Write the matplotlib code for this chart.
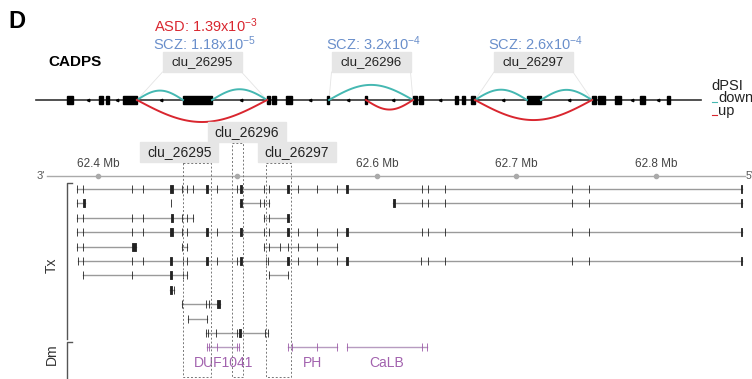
import numpy as np
import matplotlib.pyplot as plt
from matplotlib.patches import Rectangle

plt.rcParams['font.family'] = ['Liberation Sans', 'DejaVu Sans']
plt.rcParams['mathtext.default'] = 'regular'

# ---------------- top panel: collapsed gene model (track units) ----------------
gene_span = [36, 701]
exon_start = [67, 99, 106, 123, 183, 267, 272, 286, 327, 365, 413, 419, 455, 462, 471, 527, 592, 598, 615, 640, 667]
exon_end = [73, 103, 109, 137, 212, 270, 276, 292, 329, 367, 417, 423, 458, 465, 475, 541, 596, 605, 621, 645, 670]
strand_marks = [88, 117, 161, 241, 310, 348, 393, 440, 503, 569, 632, 658]

clusters = ['clu_26295', 'clu_26296', 'clu_26297']
scz_p = ['1.18x10$^{-5}$', '3.2x10$^{-4}$', '2.6x10$^{-4}$']
asd_p = ['1.39x10$^{-3}$', None, None]

junc_cluster = [0, 0, 0, 1, 1, 2, 2, 2]
junc_start = [137, 212, 137, 329, 366, 475, 541, 475]
junc_end = [183, 267, 267, 413, 413, 527, 592, 592]
junc_dpsi = ['down', 'down', 'up', 'down', 'up', 'down', 'down', 'up']

# ---------------- bottom panel: transcripts in genomic kb (chr3) ----------------
region = (62363.4, 62863.8)
ticks_kb = [62400, 62500, 62600, 62700, 62800]
tick_labels = ['62.4 Mb', '', '62.6 Mb', '62.7 Mb', '62.8 Mb']  # 62.5 hidden under cluster labels

# (row, [(exon start kb, exon length kb), ...])
transcripts = [
    (0, [(62384.9, .2), (62389.2, .2), (62424.4, .2), (62432.3, .2), (62451.6, 2.1), (62460.2, .2),
         (62463.8, .2), (62468.1, .2), (62477.4, 1.6), (62485.3, .2), (62499.6, .2), (62501.8, 1.6),
         (62519.0, .2), (62522.6, .2), (62535.5, 1.4), (62543.4, .2), (62557.0, .2), (62571.3, .2),
         (62578.0, 1.2), (62632.3, .2), (62636.6, .2), (62648.7, .2), (62739.8, .2), (62752.0, .2),
         (62860.6, .8)]),
    (1, [(62384.9, .2), (62389.2, 1.6)]),
    (1, [(62452.0, .6)]),
    (1, [(62501.8, 1.6), (62516.1, .2), (62519.0, .2), (62522.6, .2)]),
    (1, [(62611.2, 1.8), (62632.3, .2), (62636.6, .2), (62648.7, .2), (62739.8, .2), (62752.0, .2),
         (62860.6, .8)]),
    (2, [(62384.9, .2), (62389.2, .2), (62424.4, .2), (62432.3, .2), (62452.0, 2.0), (62460.2, .2),
         (62463.8, .2), (62468.1, .2)]),
    (2, [(62519.0, .2), (62522.6, .2), (62535.5, 1.4)]),
    (3, [(62384.9, .2), (62389.2, .2), (62424.4, .2), (62432.3, .2), (62451.6, 2.1), (62460.2, .2),
         (62463.8, .2), (62477.4, 1.6), (62485.3, .2), (62501.8, 1.6), (62519.0, .2), (62522.6, .2),
         (62535.5, 1.4), (62543.4, .2), (62557.0, .2), (62571.3, .2), (62578.0, 1.2), (62632.3, .2),
         (62636.6, .2), (62648.7, .2), (62739.8, .2), (62752.0, .2), (62860.6, .8)]),
    (4, [(62384.9, .2), (62389.2, .2), (62424.4, 2.8)]),
    (4, [(62460.2, .2), (62463.8, .2)]),
    (4, [(62519.0, .2), (62522.6, .2), (62530.5, .2), (62536.2, .2), (62543.4, .2), (62557.0, .2),
         (62571.3, .2)]),
    (5, [(62385.7, .2), (62389.2, .2), (62424.4, .2), (62432.3, .2), (62451.6, 1.4), (62460.9, .2),
         (62463.8, .2), (62477.4, 1.6), (62485.3, .2), (62499.6, .2), (62501.8, 1.6), (62520.4, .2),
         (62521.9, .2), (62535.5, 1.4), (62543.4, .2), (62557.0, .2), (62571.3, .2), (62578.0, 1.2),
         (62631.5, .2), (62636.6, .2), (62648.7, .2), (62739.8, .2), (62752.0, .2), (62860.6, .8)]),
    (6, [(62389.2, .2), (62424.4, .2), (62451.6, 1.6), (62460.9, .2), (62463.8, .2)]),
    (6, [(62522.6, .2), (62536.2, .2)]),
    (7, [(62451.6, 1.6), (62454.5, .2)]),
    (8, [(62460.2, .2), (62477.4, .2), (62479.6, .2), (62485.6, 1.6)]),
    (9, [(62464.5, .2), (62478.1, .2)]),
    (10, [(62477.4, .2), (62478.8, .2), (62484.6, .2), (62499.6, .2), (62501.1, 1.6), (62519.7, .2),
          (62521.9, .2)]),
]

domain_names = ['DUF1041', 'PH', 'CaLB']
domains = [
    [(62478.1, .2), (62479.6, .2), (62485.3, .2), (62499.6, .2), (62501.1, .2)],
    [(62536.2, .2), (62539.1, .2), (62557.0, .2), (62571.3, .2)],
    [(62578.5, .2), (62632.3, .2), (62635.8, .2)],
]
domain_row = 11

# cluster windows on the genomic track (kb) and where their labels sit
clu_span = [(62460.9, 62480.9), (62496.0, 62503.9), (62520.4, 62538.3)]
clu_label_x = [62458.4, 62506.8, 62542.7]
clu_label_row = [-2.57, -3.96, -2.57]

cyan = '#45B8B2'
red = '#D9262F'
blue = '#6A8FCB'
purple = '#9C5AA8'
boxgray = '#E6E6E6'

fig = plt.figure(figsize=(7.52, 3.79), dpi=100)

# ---- top panel ----
ax = fig.add_axes([0, 0, 1, 1])
ax.set_xlim(0, 752)
ax.set_ylim(379, 0)
ax.axis('off')
base = 100

ax.text(8, 22, 'D', fontsize=17, fontweight='bold', va='center', ha='left')
ax.text(48, 62, 'CADPS', fontsize=11, fontweight='bold', va='center', ha='left')

ax.plot(gene_span, [base, base], color='#333333', lw=1.2, zorder=2)
for s, e in zip(exon_start, exon_end):
    ax.add_patch(Rectangle((s, base - 4), e - s, 8, color='black', zorder=3))
ax.plot(strand_marks, [base] * len(strand_marks), ls='none', marker='<', ms=1.8, color='black', zorder=3)

t = np.linspace(0, 1, 80)
for s, e, d in zip(junc_start, junc_end, junc_dpsi):
    h = 2.5 + 0.15 * (e - s)
    if d == 'down':
        ax.plot(s + (e - s) * t, base - h * np.sin(np.pi * t), color=cyan, lw=1.4, zorder=4)
    else:
        ax.plot(s + (e - s) * t, base + h * np.sin(np.pi * t), color=red, lw=1.4, zorder=4)

for k, name in enumerate(clusters):
    cs = min(s for s, c in zip(junc_start, junc_cluster) if c == k)
    ce = max(e for e, c in zip(junc_end, junc_cluster) if c == k)
    cx = (cs + ce) / 2
    ax.add_patch(Rectangle((cx - 39.5, 52), 79, 20, color=boxgray, zorder=1))
    ax.text(cx, 62.5, name, fontsize=9.5, ha='center', va='center', color='#222222')
    ax.plot([cx - 39.5, cs], [72, base], color='#E4E4E4', lw=0.6, zorder=1)
    ax.plot([cx + 39.5, ce], [72, base], color='#E4E4E4', lw=0.6, zorder=1)
    ax.text(cx + 2, 44, 'SCZ: ' + scz_p[k], fontsize=10.5, ha='center', va='center', color=blue)
    if asd_p[k]:
        ax.text(cx + 4, 26, 'ASD: ' + asd_p[k], fontsize=10.5, ha='center', va='center', color=red)

# dPSI legend
ax.text(711, 86, 'dPSI', fontsize=10.5, va='center', ha='left', color='#222222')
ax.plot([712, 717], [102, 102], color=cyan, lw=0.8)
ax.text(718, 98.5, 'down', fontsize=10.5, va='center', ha='left', color='#222222')
ax.plot([712, 717], [115, 115], color=red, lw=0.8)
ax.text(718, 111.5, 'up', fontsize=10.5, va='center', ha='left', color='#222222')

# ---- bottom panel ----
gx = fig.add_axes([0, 0, 1, 1])
gx.patch.set_visible(False)
gx.set_xlim(62329.75, 62868.82)
gx.set_ylim(13.19, -13.125)
gx.axis('off')

axis_row = -0.9
gx.plot(region, [axis_row, axis_row], color='#AAAAAA', lw=1.0)
gx.plot(ticks_kb, [axis_row] * len(ticks_kb), ls='none', marker='o', ms=3, color='#AAAAAA')
for tk, lab in zip(ticks_kb, tick_labels):
    gx.text(tk, -1.74, lab, fontsize=8.5, ha='center', va='center', color='#444444')
gx.text(region[0] - 1.5, axis_row, "3'", fontsize=8, ha='right', va='center', color='#555555')
gx.text(region[1] + 0.5, axis_row, "5'", fontsize=7.5, ha='left', va='center', color='#555555')

for row, exons in transcripts:
    lo = min(s for s, l in exons)
    hi = max(s + l for s, l in exons)
    gx.plot([lo, hi], [row, row], color='#9A9A9A', lw=1.0, zorder=1)
    gx.broken_barh(exons, (row - 0.28, 0.56), facecolors='#222222', edgecolor='#222222', lw=0.6, zorder=2)

for name, exons in zip(domain_names, domains):
    lo = min(s for s, l in exons)
    hi = max(s + l for s, l in exons)
    gx.plot([lo, hi], [domain_row, domain_row], color='#B79BC0', lw=1.0, zorder=1)
    gx.broken_barh(exons, (domain_row - 0.28, 0.56), facecolors=purple, edgecolor=purple, lw=0.6, zorder=2)
    gx.text((lo + hi) / 2, domain_row + 1.08, name, fontsize=10, ha='center', va='center', color='#A262AE')

# cluster windows
for k, (s, e) in enumerate(clu_span):
    top = clu_label_row[k] + 0.77
    gx.add_patch(Rectangle((s, top), e - s, 13.06 - top, fill=False, ls=(0, (2, 2)),
                           lw=0.7, edgecolor='#777777', zorder=3))
    w = 78 * 0.71685
    gx.add_patch(Rectangle((clu_label_x[k] - w / 2, clu_label_row[k] - 0.69), w, 1.39,
                           color=boxgray, zorder=1))
    gx.text(clu_label_x[k], clu_label_row[k], clusters[k], fontsize=10, ha='center', va='center',
            color='#222222', zorder=4)

# Tx / Dm brackets
gx.plot([62381.4, 62377.8, 62377.8], [-0.42, -0.42, 10.42], color='#555555', lw=1.0)
gx.plot([62381.4, 62377.8, 62377.8], [10.62, 10.62, 14], color='#555555', lw=1.0)
gx.text(62367.0, 5.28, 'Tx', rotation=90, fontsize=10, ha='center', va='center', color='#333333')
gx.text(62367.0, 11.5, 'Dm', rotation=90, fontsize=10, ha='center', va='center', color='#333333')

fig.savefig('out.png', dpi=100)
